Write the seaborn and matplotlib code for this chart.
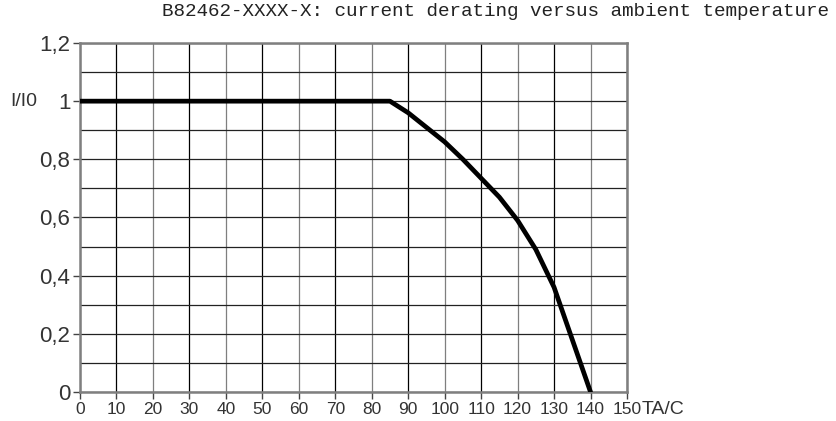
import matplotlib
matplotlib.use("Agg")
import matplotlib.pyplot as plt
import seaborn as sns
import pandas as pd

# derating curve
temperatura = [0, 85, 90, 95, 100, 105, 110, 115, 120, 125, 130, 135, 140]
corriente = [1.0, 1.0, 0.96, 0.91, 0.86, 0.80, 0.735, 0.67, 0.59, 0.49, 0.36, 0.18, 0.0]

x_ticks = list(range(0, 151, 10))
y_ticks = [0, 0.2, 0.4, 0.6, 0.8, 1.0, 1.2]
y_labels = ["0", "0,2", "0,4", "0,6", "0,8", "1", "1,2"]

df = pd.DataFrame({"T": temperatura, "I": corriente})

sns.set_style("white")
plt.rcParams['font.family'] = ['Liberation Sans', 'DejaVu Sans']

fig = plt.figure(figsize=(8.37, 4.21), dpi=100)
ax = fig.add_axes([80 / 837, 1 - 392 / 421, 547 / 837, 349 / 421])

# grid: odd tens black, multiples of 20 grey
for xv in x_ticks:
    ax.axvline(xv, color="#7f7f7f" if xv % 20 == 0 else "black", lw=0.9, zorder=1)
for k in range(13):
    ax.axhline(k / 10, color="#222222", lw=0.9, zorder=1)

sns.lineplot(data=df, x="T", y="I", color="black", lw=3.4, ax=ax, zorder=3)

ax.set_xlim(0, 150)
ax.set_ylim(0, 1.2)
ax.set_xticks(x_ticks)
ax.set_xticklabels([str(v) for v in x_ticks], fontsize=12.5, color="#333333")
ax.set_yticks(y_ticks)
ax.set_yticklabels(y_labels, fontsize=16, color="#333333")
ax.tick_params(axis="both", direction="out", length=5, width=1, color="#444444",
               left=True, bottom=True, pad=2)
ax.set_xlabel("")
ax.set_ylabel("")

for s in ax.spines.values():
    s.set_color("#7f7f7f")
    s.set_linewidth(1.8)

fig.text(24 / 837, 1 - 101 / 421, "I/I0", fontsize=14, color="#333333", ha="center", va="center")
fig.text(642 / 837, 1 - 409 / 421, "TA/C", fontsize=14, color="#333333", ha="left", va="center")
fig.text(162 / 837, 1 - 12 / 421, "B82462-XXXX-X: current derating versus ambient temperature",
         fontsize=13.9, family="Liberation Mono", color="#222222", ha="left", va="center")

plt.savefig("out.png", dpi=100)
